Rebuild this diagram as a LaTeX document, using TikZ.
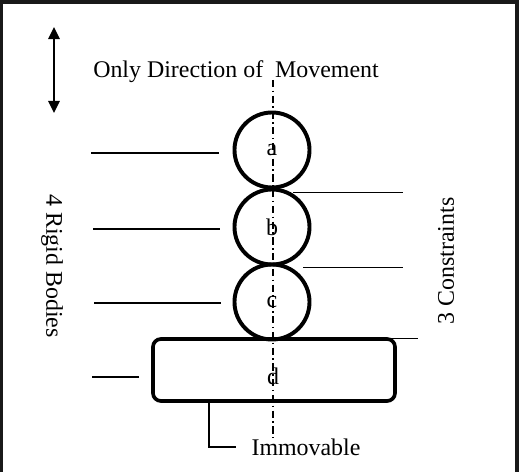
\documentclass[tikz,border=0pt]{standalone}
\usepackage{fontspec}
\setmainfont{Liberation Serif}
\usetikzlibrary{arrows.meta, positioning}
\tikzset{
  body/.style={circle, draw, line width=2.8pt, minimum size=1.875cm, inner sep=0pt},
  slab/.style={rectangle, draw, line width=2.6pt, rounded corners=0.2cm,
               minimum width=6.05cm, minimum height=1.55cm, inner sep=0pt},
  lead/.style={line width=1.6pt},
  rlead/.style={line width=1.1pt},
  axisline/.style={line width=0.9pt, dash pattern=on 5pt off 2.5pt on 1.2pt off 2.5pt},
}

\begin{document}
\begin{tikzpicture}[
    x=0.025cm, y=-0.025cm,
    every node/.style={font=\fontsize{17}{20}\selectfont},
    frame/.style={line width=2.3pt, black!90},
    moves/.style={{Triangle[length=0.3cm, width=0.28cm]}-{Triangle[length=0.3cm, width=0.28cm]}, line width=1.5pt}
  ]
  \useasboundingbox (0,0) rectangle (522,472);

  % Frame
  \draw[frame] (1,472) -- (1,2) -- (517,2) -- (517,472);

  % Direction
  \coordinate (arrtop) at (54,27);
  \coordinate (arrbot) at (54,113);
  \draw[moves] (arrtop) -- (arrbot);
  \node[anchor=base west, inner sep=0pt] (dirtext) at (93,78) {Only Direction of\ \ Movement};

  % Bodies
  \node[body] (circa) at (272,150) {a};
  \node[body] (circb) at (272,227) {b};
  \node[body] (circc) at (272,302) {c};
  \node[slab] (rectd) at (274,370) {};
  \node (labd) at (273,376) {d};

  % Axis
  \coordinate (axtop) at (273,80);
  \coordinate (axbot) at (273,438);
  \draw[axisline] (axtop) -- (axbot);

  % Left leaders
  \draw[lead] (circa.west) ++(-14,3) -- ++(-128,0);
  \draw[lead] (circb.west) ++(-13,2) -- ++(-127,0);
  \draw[lead] (circc.west) ++(-12,1) -- ++(-127,0);
  \draw[lead] (rectd.west) ++(-12,7) -- ++(-47,0);
  \node[rotate=-90] (rigid) at (52,266) {4 Rigid Bodies};

  % Right leaders
  \draw[rlead] (circa.south) ++(21,3) -- ++(110,0);
  \draw[rlead] (circb.south) ++(31,1) -- ++(100,0);
  \draw[rlead] (circc.south) ++(46,-3) -- ++(100,0);
  \node[rotate=90] (cons) at (446,261) {3 Constraints};

  % Immovable
  \node (immov) at (306,447) {Immovable};
  \coordinate (immovtip) at (236,447);
  \draw[lead] (rectd.south west) ++(33,-2) -- ++(25,0) |- (immovtip);

\end{tikzpicture}
\end{document}
